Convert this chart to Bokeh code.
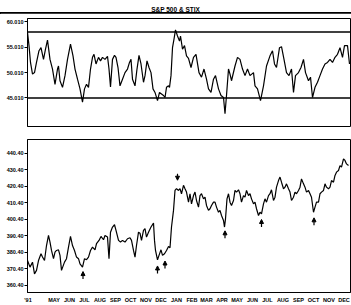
from bokeh.plotting import figure
from bokeh.layouts import column
from bokeh.models import (Div, Span, FixedTicker, NumeralTickFormatter, Range1d,
                          ColumnDataSource, Arrow, NormalHead, AllLabels)
from bokeh.embed import file_html
from bokeh.resources import INLINE

# ---- data (x = days since 1991-01-01) ----
stix_day = [67, 70, 73, 77, 81, 85, 90, 94, 99, 103, 107, 112, 117, 122, 127, 129, 132, 137,
            142, 147, 153, 158, 162, 167, 172, 177, 181, 185, 189, 193, 197, 200, 204, 209,
            213, 217, 222, 227, 230, 233, 237, 241, 244, 248, 252, 257, 262, 267, 271, 274,
            277, 282, 286, 290, 294, 299, 302, 306, 310, 314, 318, 322, 327, 331, 335, 339,
            342, 345, 349, 351, 354, 357, 360, 363, 367, 371, 373, 377, 381, 385, 389, 394,
            399, 404, 410, 415, 420, 425, 429, 434, 439, 443, 449, 454, 459, 462, 465, 469,
            472, 475, 482, 487, 492, 497, 502, 507, 512, 519, 522, 527, 533, 539, 545, 552,
            557, 561, 565, 571, 575, 580, 585, 590, 595, 599, 603, 609, 614, 619, 623, 629,
            633, 637, 642, 647, 652, 657, 662, 667, 672, 677, 682, 687, 692, 697, 701, 707, 711]
stix_val = [57.9, 55.3, 52.0, 49.7, 50.0, 52.0, 54.3, 54.9, 52.6, 54.6, 56.4, 52.6, 50.7, 47.7,
            50.7, 51.3, 48.4, 47.1, 49.4, 52.6, 55.6, 53.3, 50.7, 48.7, 46.8, 44.2, 46.8, 47.7,
            47.1, 50.7, 53.0, 53.6, 51.7, 53.0, 52.3, 53.0, 52.6, 53.2, 50.7, 47.2, 52.6, 53.4,
            53.0, 51.0, 47.4, 48.7, 50.0, 50.7, 52.0, 52.6, 48.7, 47.4, 50.7, 53.4, 51.7, 48.1,
            49.4, 52.3, 51.0, 50.0, 46.8, 46.1, 44.5, 46.1, 45.8, 45.5, 45.1, 47.1, 47.4, 47.1,
            49.4, 54.9, 56.6, 58.4, 57.2, 56.2, 57.2, 54.6, 55.3, 53.3, 52.8, 51.0, 53.0, 53.6,
            50.0, 49.1, 50.7, 48.7, 46.8, 46.1, 48.7, 49.4, 46.8, 45.5, 45.1, 41.9, 45.5, 50.7,
            49.7, 48.4, 51.3, 53.0, 52.6, 50.7, 49.4, 50.7, 49.4, 50.0, 47.4, 46.8, 44.5, 47.4,
            51.3, 53.3, 54.3, 51.7, 51.0, 54.9, 55.1, 52.6, 50.0, 49.4, 50.7, 46.1, 49.4, 50.0,
            51.0, 52.6, 50.0, 48.4, 49.1, 45.1, 47.1, 48.1, 49.4, 50.7, 51.7, 52.0, 52.6, 52.0,
            53.0, 53.6, 54.9, 53.0, 55.3, 55.3, 51.7]

spx_day = [67, 72, 77, 81, 85, 89, 94, 97, 101, 105, 109, 112, 115, 119, 122, 125, 129, 132,
           135, 141, 145, 149, 153, 157, 161, 165, 169, 172, 177, 181, 185, 189, 193, 197, 202,
           205, 210, 214, 219, 222, 227, 230, 233, 237, 241, 244, 249, 253, 257, 262, 267, 272,
           275, 279, 282, 285, 289, 292, 295, 299, 302, 305, 309, 314, 319, 321, 323, 327, 330,
           334, 337, 341, 345, 349, 352, 355, 359, 362, 365, 369, 372, 375, 379, 382, 385, 389,
           392, 395, 399, 402, 405, 409, 412, 415, 419, 422, 425, 429, 432, 435, 439, 442, 445,
           449, 452, 455, 459, 461, 463, 466, 469, 472, 475, 479, 482, 485, 489, 492, 495, 499,
           502, 505, 509, 512, 515, 519, 522, 525, 529, 532, 535, 539, 542, 545, 549, 552, 555,
           559, 562, 565, 569, 572, 575, 579, 582, 585, 589, 592, 595, 599, 602, 605, 609, 612,
           615, 619, 622, 625, 629, 632, 635, 639, 642, 645, 649, 652, 655, 659, 662, 665, 669,
           672, 675, 679, 682, 685, 689, 692, 695, 699, 702, 705, 709]
spx_val = [375.3, 371.3, 374.3, 367.2, 369.3, 375.3, 379.4, 377.4, 375.3, 384.4, 390.5, 386.5,
           381.4, 376.4, 380.4, 381.4, 381.8, 378.4, 369.3, 374.3, 376.4, 383.4, 389.9, 384.4,
           381.4, 377.4, 376.4, 373.3, 371.3, 376.4, 375.8, 377.4, 381.4, 383.4, 381.8, 385.5,
           387.5, 389.9, 387.9, 390.5, 389.5, 376.4, 392.5, 395.6, 397.0, 393.6, 387.5, 386.5,
           387.5, 386.5, 388.5, 389.1, 387.5, 381.4, 377.4, 384.4, 392.5, 391.9, 387.5, 393.6,
           394.6, 389.5, 392.5, 395.6, 398.0, 387.5, 381.4, 375.7, 378.4, 381.8, 378.4, 379.4,
           381.4, 383.8, 383.0, 395.6, 405.7, 417.8, 418.9, 417.8, 418.9, 415.8, 420.9, 418.8,
           416.8, 410.7, 415.8, 409.7, 414.7, 416.8, 411.7, 407.7, 414.7, 415.8, 412.7, 413.7,
           408.7, 405.7, 406.7, 408.7, 410.7, 410.7, 407.7, 404.6, 405.7, 402.6, 399.6, 395.6,
           400.6, 412.7, 415.8, 410.7, 408.7, 411.7, 417.8, 416.8, 418.2, 415.8, 410.7, 414.7,
           413.7, 417.8, 414.7, 415.8, 412.7, 409.7, 410.7, 406.7, 402.6, 404.6, 403.6, 409.7,
           412.7, 410.7, 414.7, 415.8, 418.2, 411.7, 413.7, 419.8, 423.8, 425.9, 422.8, 418.8,
           419.8, 421.8, 418.8, 416.8, 411.7, 413.7, 416.8, 415.8, 417.8, 419.8, 424.8, 421.8,
           419.8, 416.8, 417.8, 415.8, 413.7, 404.6, 407.7, 410.7, 410.7, 415.8, 416.8, 417.8,
           421.8, 419.8, 418.8, 419.8, 423.8, 422.8, 426.9, 428.9, 429.9, 432.9, 431.9, 437.0,
           436.0, 433.9, 432.9]

arrow_up_day = [178, 327, 342, 462, 535, 640]
arrow_up_val = [368.6, 372.0, 375.0, 393.3, 400.2, 401.2]
arrow_down_day = [367]
arrow_down_val = [424.0]

stix_ticks = [45.01, 50.01, 55.01, 60.01]
stix_bands = [58, 45]
spx_ticks = [360.4, 370.4, 380.4, 390.4, 400.4, 410.4, 420.4, 430.4, 440.4]
month_ticks = [68, 120, 151, 181, 212, 243, 273, 304, 334, 365, 396, 425, 456, 486,
               517, 547, 578, 609, 639, 670, 700]
month_labels = ["'91", "MAY", "JUN", "JUL", "AUG", "SEP", "OCT", "NOV", "DEC", "JAN",
                "FEB", "MAR", "APR", "MAY", "JUN", "JUL", "AUG", "SEP", "OCT", "NOV", "DEC"]
title_text = "S&amp;P 500 &amp; STIX"

FONT = "Liberation Sans"
FS = "5.5px"
XR = (67, 713)

def style(p):
    p.grid.visible = False
    p.outline_line_color = "black"
    p.outline_line_width = 1
    p.background_fill_color = "white"
    p.border_fill_color = "white"
    for ax in p.yaxis:
        ax.major_label_text_font = FONT
        ax.major_label_text_font_size = FS
        ax.major_label_text_font_style = "bold"
        ax.major_label_text_color = "black"
        ax.major_label_policy = AllLabels()
        ax.major_tick_out = 3
        ax.major_tick_in = 0
        ax.minor_tick_out = 0
        ax.minor_tick_in = 0
        ax.major_label_standoff = 1
        ax.axis_line_color = "black"
        ax.major_tick_line_color = "black"

# ---- title ----
div = Div(text=('<div style="text-align:center;font-family:\'Liberation Sans\';'
                'font-size:6.5px;font-weight:bold;line-height:9px;height:9px;'
                'border-bottom:2px solid black;width:351px;">' + title_text + '</div>'),
          width=351, height=13, margin=0)

# ---- top: STIX ----
p1 = figure(width=351, height=117, output_backend="svg", toolbar_location=None,
            x_range=Range1d(*XR), y_range=Range1d(39.4, 60.64),
            min_border_left=27, min_border_right=1, min_border_top=5, min_border_bottom=4)
p1.xaxis.visible = False
p1.yaxis.ticker = FixedTicker(ticks=stix_ticks)
p1.yaxis.formatter = NumeralTickFormatter(format="0.000")
style(p1)
for v in stix_bands:
    p1.add_layout(Span(location=v, dimension="width", line_color="black", line_width=1.5))
p1.line(stix_day, stix_val, line_color="black", line_width=1.2)

# ---- bottom: S&P 500 ----
p2 = figure(width=351, height=175, output_backend="svg", toolbar_location=None,
            x_range=Range1d(*XR), y_range=Range1d(355.9, 448.7),
            min_border_left=27, min_border_right=1, min_border_top=9, min_border_bottom=4)
p2.yaxis.ticker = FixedTicker(ticks=spx_ticks)
p2.yaxis.formatter = NumeralTickFormatter(format="0.00")
style(p2)
xa = p2.xaxis[0]
xa.ticker = FixedTicker(ticks=month_ticks)
xa.major_label_overrides = {t: l for t, l in zip(month_ticks, month_labels)}
xa.major_label_text_font = FONT
xa.major_label_text_font_size = FS
xa.major_label_text_font_style = "bold"
xa.major_label_text_color = "black"
xa.major_tick_out = 0
xa.major_tick_in = 0
xa.minor_tick_out = 0
xa.minor_tick_in = 0
xa.major_label_standoff = 4
xa.axis_line_color = "black"
p2.line(spx_day, spx_val, line_color="black", line_width=1.2)

up_src = ColumnDataSource(dict(x0=arrow_up_day, y0=[v - 4.5 for v in arrow_up_val],
                               x1=arrow_up_day, y1=arrow_up_val))
dn_src = ColumnDataSource(dict(x0=arrow_down_day, y0=[v + 4.0 for v in arrow_down_val],
                               x1=arrow_down_day, y1=arrow_down_val))
for src in (up_src, dn_src):
    p2.add_layout(Arrow(source=src, x_start="x0", y_start="y0", x_end="x1", y_end="y1",
                        line_color="black", line_width=1.2,
                        end=NormalHead(size=4, fill_color="black", line_color="black")))

layout = column(div, p1, p2, spacing=0)
open("out.html", "w").write(file_html(layout, INLINE))
